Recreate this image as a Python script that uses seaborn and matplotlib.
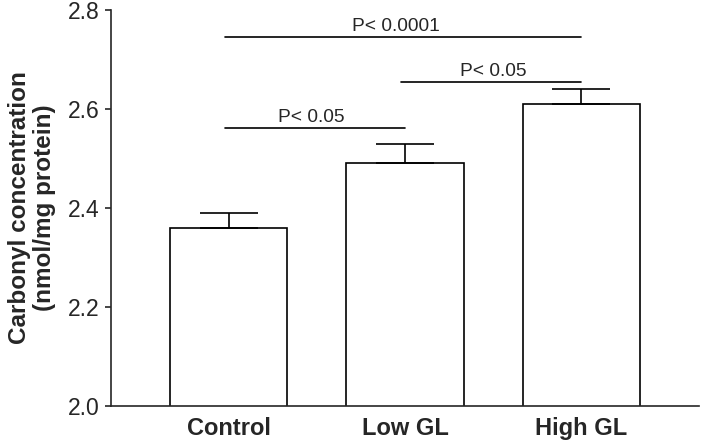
import matplotlib
matplotlib.use("Agg")
import matplotlib.pyplot as plt
import seaborn as sns
import pandas as pd

groups = ["Control", "Low GL", "High GL"]
means = [2.36, 2.49, 2.61]
sems = [0.03, 0.04, 0.03]
yticks = [2.0, 2.2, 2.4, 2.6, 2.8]
# significance brackets: (start group index, end group index, y, label, label x)
sig_start = [0, 1, 0]
sig_end = [1, 2, 2]
sig_y = [2.562, 2.655, 2.745]
sig_label = ["P< 0.05", "P< 0.05", "P< 0.0001"]
sig_label_x = [0.47, 1.5, 0.95]

sns.set_style("ticks")
plt.rcParams["font.family"] = ["Liberation Sans", "DejaVu Sans"]

df = pd.DataFrame({"group": groups, "mean": means})

fig = plt.figure(figsize=(7.09, 4.44), dpi=100)
ax = fig.add_axes([111/709, 1 - 406/444, (699 - 111)/709, (406 - 10)/444])

sns.barplot(data=df, x="group", y="mean", order=groups, color="white",
            edgecolor="black", linewidth=1.2, width=0.665, errorbar=None, ax=ax)
ax.errorbar(range(len(groups)), means, yerr=[[0]*len(sems), sems], fmt="none",
            ecolor="black", elinewidth=1.2, capsize=21, capthick=1.2, zorder=1)

for s, e, y, lab, lx in zip(sig_start, sig_end, sig_y, sig_label, sig_label_x):
    ax.plot([s - 0.02, e], [y, y], color="black", lw=1.2, clip_on=False)
    ax.text(lx, y + 0.004, lab, ha="center", va="bottom", fontsize=13.8)

ax.set_ylim(2.0, 2.8)
ax.set_xlim(-0.67, 2.67)
ax.set_yticks(yticks)
ax.set_yticklabels([f"{t:.1f}" for t in yticks], fontsize=16.5)
ax.tick_params(axis="y", length=4, width=1.2, pad=4)
ax.tick_params(axis="x", length=0, pad=8)
for lab in ax.get_xticklabels():
    lab.set_fontsize(17)
    lab.set_fontweight("bold")
ax.set_xlabel("")
ax.set_ylabel("Carbonyl concentration\n(nmol/mg protein)", fontsize=17.5,
              fontweight="bold", linespacing=1.1, labelpad=9)
sns.despine(ax=ax)
for sp in ["left", "bottom"]:
    ax.spines[sp].set_linewidth(1.2)

fig.savefig("out.png", dpi=100)
